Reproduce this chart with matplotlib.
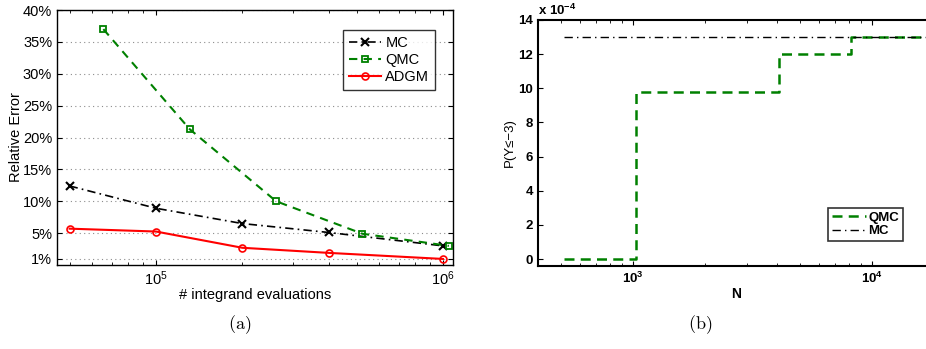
import numpy as np
import matplotlib.pyplot as plt
from matplotlib.ticker import FixedLocator, LogLocator, NullFormatter

plt.rcParams['font.family'] = ['Liberation Sans', 'DejaVu Sans']
plt.rcParams['mathtext.fontset'] = 'custom'
plt.rcParams['mathtext.rm'] = 'Liberation Sans'
plt.rcParams['mathtext.it'] = 'Liberation Sans'
plt.rcParams['mathtext.bf'] = 'Liberation Sans:bold'

# (a) relative error vs number of integrand evaluations
n_mc = [5e4, 1e5, 2e5, 4e5, 1e6]
err_mc = [12.4, 8.9, 6.5, 5.1, 3.0]
n_qmc = [2**16, 2**17, 2**18, 2**19, 2**20]
err_qmc = [37.0, 21.3, 10.0, 4.9, 3.0]
n_adgm = [5e4, 1e5, 2e5, 4e5, 1e6]
err_adgm = [5.7, 5.25, 2.7, 1.9, 0.95]
pct_ticks = [1, 5, 10, 15, 20, 25, 30, 35, 40]

# (b) P(Y <= -3) vs N, in units of 1e-4
N_qmc = [512, 1024, 2048, 4096, 8192, 16384]
p_qmc = [0.0, 9.77, 9.77, 12.0, 13.0, 13.0]
N_mc = [512, 18000]
p_mc = [13.0, 13.0]

fig = plt.figure(figsize=(9.26, 3.49), dpi=100)

# ---- left panel
ax1 = fig.add_axes([57/926, 84/349, 396/926, 255/349])
ax1.plot(n_mc, err_mc, 'k', ls=(0, (5, 2.5, 1, 2.5)), marker='x', ms=6, mew=1.5,
         lw=1.2, label='MC')
ax1.plot(n_qmc, err_qmc, color='#008000', ls=(0, (4, 3)), marker='s', ms=5,
         mfc='none', mew=1.3, lw=1.5, label='QMC')
ax1.plot(n_adgm, err_adgm, '-', color='red', marker='o', ms=5, mfc='none',
         mew=1.2, lw=1.5, label='ADGM')
ax1.set_xscale('log')
ax1.set_xlim(10**4.655, 10**6.035)
ax1.set_ylim(0, 40)
ax1.yaxis.set_major_locator(FixedLocator(pct_ticks))
ax1.set_yticklabels([f'{t}%' for t in pct_ticks])
ax1.xaxis.set_major_locator(LogLocator(base=10))
ax1.xaxis.set_minor_locator(LogLocator(base=10, subs=np.arange(2, 10)))
ax1.xaxis.set_minor_formatter(NullFormatter())
ax1.grid(axis='y', linestyle=(0, (1, 3)), color='0.55', lw=0.8)
ax1.tick_params(which='both', direction='in', top=True, right=True, labelsize=10.5)
ax1.tick_params(which='minor', length=2.5)
for s in ax1.spines.values():
    s.set_linewidth(1.0)
ax1.set_xlabel('# integrand evaluations', fontsize=10.5, labelpad=0)
ax1.set_ylabel('Relative Error', fontsize=10.5, labelpad=0)
leg1 = ax1.legend(loc='upper right', bbox_to_anchor=(0.955, 0.92), fontsize=10.5,
                  fancybox=False, edgecolor='black', handlelength=2.2,
                  borderaxespad=0, labelspacing=0.2, handletextpad=0.3)
leg1.get_frame().set_linewidth(1.0)

# ---- right panel
ax2 = fig.add_axes([538/926, 83/349, 397/926, 246/349])
ax2.step(N_qmc, p_qmc, where='post', ls=(0, (4, 2.5)), color='#008000', lw=1.8,
         label='QMC')
ax2.plot(N_mc, p_mc, 'k', ls=(0, (6, 3, 1, 3)), lw=1.0, label='MC')
ax2.set_xscale('log')
ax2.set_xlim(10**2.6007, 10**4.264)
ax2.set_ylim(-0.41, 14)
ax2.set_yticks(np.arange(0, 15, 2))
ax2.xaxis.set_minor_locator(LogLocator(base=10, subs=np.arange(2, 10)))
ax2.xaxis.set_minor_formatter(NullFormatter())
ax2.tick_params(which='both', direction='in', top=True, right=True, labelsize=9.5)
ax2.tick_params(which='minor', length=2.5)
for lab in ax2.get_xticklabels() + ax2.get_yticklabels():
    lab.set_fontweight('bold')
for s in ax2.spines.values():
    s.set_linewidth(1.5)
ax2.set_xlabel('N', fontsize=10, fontweight='bold', labelpad=1)
ax2.set_ylabel('P(Y≤−3)', fontsize=9.5, labelpad=2)
ax2.text(0.0, 1.01, r'x 10$^{\mathbf{-4}}$', transform=ax2.transAxes,
         fontsize=9.5, fontweight='bold', ha='left', va='bottom')
leg2 = ax2.legend(loc='lower right', bbox_to_anchor=(0.92, 0.1),
                  fancybox=False, edgecolor='black', handlelength=2.6,
                  borderaxespad=0, labelspacing=0.1, handletextpad=0.2,
                  borderpad=0.3, prop={'weight': 'bold', 'size': 9.5})
leg2.get_frame().set_linewidth(1.2)

# captions
fig.text(240/926, 24/349, r'$\mathrm{(a)}$', ha='center', va='center', fontsize=13,
         math_fontfamily='cm')
fig.text(700/926, 24/349, r'$\mathrm{(b)}$', ha='center', va='center', fontsize=13,
         math_fontfamily='cm')

fig.savefig('out.png', dpi=100)
